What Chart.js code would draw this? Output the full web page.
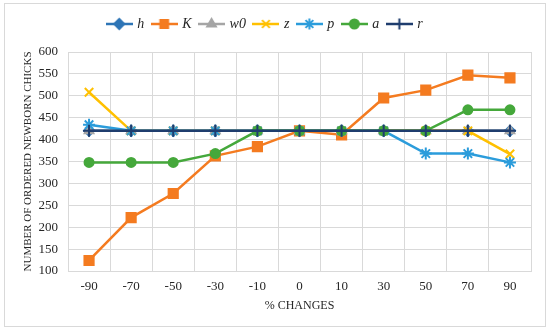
<!DOCTYPE html>
<html>
<head>
  <meta charset="UTF-8" />
  <title>Newborn chicks vs % changes</title>
  <script src="https://cdn.jsdelivr.net/npm/chart.js"></script>
  <style>
    html, body { margin: 0; padding: 0; background: #fff; }
    #wrap { width: 550px; height: 333px; position: relative; }
  </style>
</head>
<body>
  <div id="wrap"><canvas id="chicksChart"></canvas></div>

  <script>
    // data
    const changes = ['-90', '-70', '-50', '-30', '-10', '0', '10', '30', '50', '70', '90'];
    const hVals  = [420, 420, 420, 420, 420, 420, 420, 420, 420, 420, 420];
    const kVals  = [124, 222, 277, 363, 384, 420, 411, 495, 513, 547, 541];
    const w0Vals = [420, 420, 420, 420, 420, 420, 420, 420, 420, 420, 420];
    const zVals  = [508, 420, 420, 420, 420, 420, 420, 420, 420, 420, 367];
    const pVals  = [434, 420, 420, 420, 420, 420, 420, 420, 368, 368, 348];
    const aVals  = [348, 348, 348, 368, 420, 420, 420, 420, 420, 468, 468];
    const rVals  = [420, 420, 420, 420, 420, 420, 420, 420, 420, 420, 420];
    const yTicks = [100, 150, 200, 250, 300, 350, 400, 450, 500, 550, 600];

    const serif = "'Liberation Serif', 'Times New Roman', serif";
    const gridColor = '#d9d9d9';

    function series(label, data, color, pointStyle, radius) {
      return {
        label, data,
        borderColor: color,
        backgroundColor: color,
        borderWidth: 2.5,
        pointStyle,
        pointRadius: radius,
        pointHoverRadius: radius,
        pointBorderWidth: 2,
        tension: 0
      };
    }

    const datasets = [
      series('h',  hVals,  '#2E75B6', 'rectRot', 5),
      series('K',  kVals,  '#F47B20', 'rect', 6.5),
      series('w0', w0Vals, '#A5A5A5', 'triangle', 5),
      series('z',  zVals,  '#FFC000', 'crossRot', 6),
      series('p',  pVals,  '#2B9CDB', 'star', 6),
      series('a',  aVals,  '#45A83B', 'circle', 4.5),
      series('r',  rVals,  '#1F3D6E', 'cross', 6)
    ];
    // later series on top, like the original
    datasets.forEach((d, i) => { d.order = datasets.length - i; });

    // legend swatch: short line with the marker in the middle
    function legendSwatch(ds) {
      const c = document.createElement('canvas');
      c.width = 27; c.height = 14;
      const ctx = c.getContext('2d');
      ctx.strokeStyle = ds.borderColor;
      ctx.fillStyle = ds.backgroundColor;
      ctx.lineWidth = 2.5;
      ctx.beginPath();
      ctx.moveTo(0, 7); ctx.lineTo(27, 7);
      ctx.stroke();
      ctx.lineWidth = 2;
      Chart.helpers.drawPoint(ctx, {
        pointStyle: ds.pointStyle,
        radius: Math.min(ds.pointRadius, 5.5),
        rotation: 0,
        borderWidth: 2
      }, 13.5, 7);
      return c;
    }

    const layoutTweaks = {
      id: 'layoutTweaks',
      beforeLayout(chart) {
        const lg = chart.legend;
        if (lg && !lg._patched) {
          const fit = lg.fit;
          lg.fit = function () {
            fit.call(this);
            this.height += 11;
          };
          lg._patched = true;
        }
      },
      afterDraw(chart) {
        const ctx = chart.ctx;
        ctx.save();
        ctx.strokeStyle = gridColor;
        ctx.lineWidth = 1;
        ctx.strokeRect(4.5, 3.5, 541, 323);
        ctx.restore();
      }
    };

    new Chart(document.getElementById('chicksChart'), {
      type: 'line',
      data: { labels: changes, datasets },
      plugins: [layoutTweaks],
      options: {
        responsive: true,
        maintainAspectRatio: false,
        animation: false,
        layout: { padding: { top: 8, right: 19, left: 0, bottom: 0 } },
        plugins: {
          tooltip: { enabled: false },
          legend: {
            position: 'top',
            labels: {
              usePointStyle: true,
              pointStyleWidth: 22,
              padding: 9,
              color: '#262626',
              font: { family: serif, size: 14, style: 'italic' },
              sort: (a, b) => a.datasetIndex - b.datasetIndex,
              generateLabels(chart) {
                return chart.data.datasets.map((ds, i) => ({
                  text: ds.label,
                  datasetIndex: i,
                  fillStyle: ds.backgroundColor,
                  strokeStyle: ds.borderColor,
                  lineWidth: 0,
                  hidden: !chart.isDatasetVisible(i),
                  pointStyle: legendSwatch(ds),
                  fontColor: '#262626'
                }));
              }
            }
          }
        },
        scales: {
          x: {
            offset: true,
            grid: { color: gridColor, offset: true, drawTicks: false },
            border: { color: gridColor },
            ticks: { color: '#262626', padding: 8, font: { family: serif, size: 13 }, maxRotation: 0 },
            title: {
              display: true,
              text: '% CHANGES',
              color: '#262626',
              font: { family: serif, size: 12 },
              padding: { top: 0, bottom: 20 }
            },
            afterFit(scale) { scale.height = 62; }
          },
          y: {
            min: 100,
            max: 600,
            afterBuildTicks(scale) { scale.ticks = yTicks.map(v => ({ value: v })); },
            grid: { color: gridColor, drawTicks: false },
            border: { color: gridColor },
            ticks: { color: '#262626', padding: 10, font: { family: serif, size: 13 } },
            title: {
              display: true,
              text: 'NUMBER OF ORDERED NEWBORN CHICKS',
              color: '#262626',
              font: { family: serif, size: 11 },
              padding: { top: 22, bottom: 0 }
            },
            afterFit(scale) { scale.width = 68; }
          }
        }
      }
    });
  </script>
</body>
</html>
